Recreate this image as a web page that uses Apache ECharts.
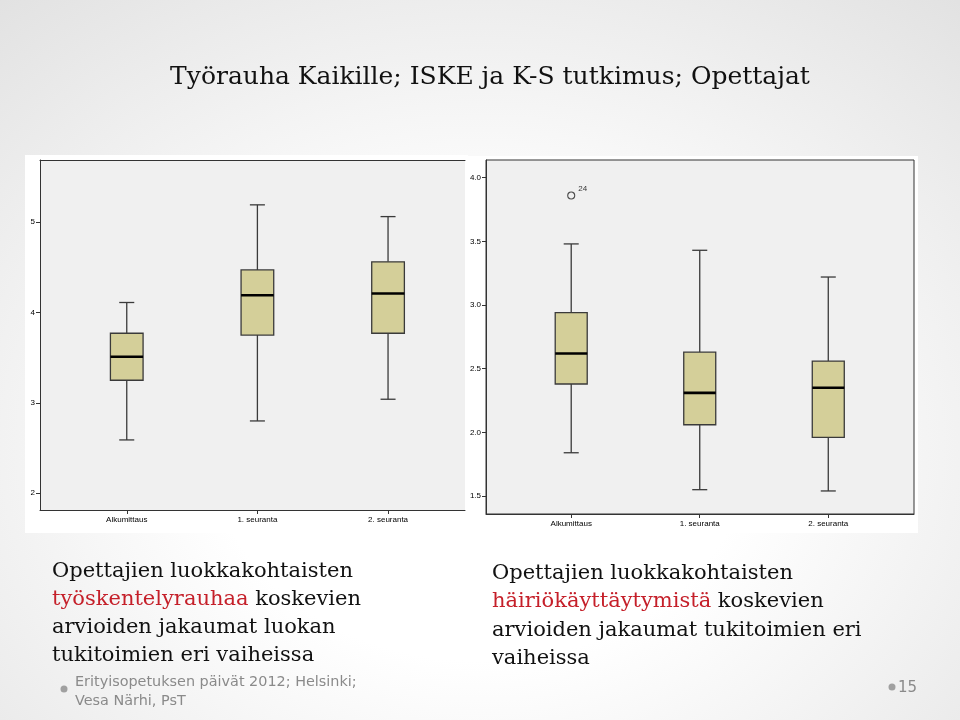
<!DOCTYPE html>
<html><head><meta charset="utf-8">
<script src="https://cdn.jsdelivr.net/npm/echarts@6/dist/echarts.min.js"></script>
<style>
html,body{margin:0;padding:0;}
body{width:960px;height:720px;overflow:hidden;background:radial-gradient(ellipse 80% 85% at 50% 62%, #ffffff 35%, #e0e0e0 100%);}
#c{width:960px;height:720px;}
</style></head><body><div id="c"></div>
<script>
const categories = ['Alkumittaus', '1. seuranta', '2. seuranta'];
const leftTicks = [2, 3, 4, 5];
const rightTicks = [1.5, 2.0, 2.5, 3.0, 3.5, 4.0];
// työskentelyrauhaa
const leftLow = [2.59, 2.80, 3.04];
const leftQ1 = [3.25, 3.75, 3.77];
const leftMedian = [3.51, 4.19, 4.21];
const leftQ3 = [3.77, 4.47, 4.56];
const leftHigh = [4.11, 5.19, 5.06];
// häiriökäyttäytyminen
const rightLow = [1.84, 1.55, 1.54];
const rightQ1 = [2.38, 2.06, 1.96];
const rightMedian = [2.62, 2.31, 2.35];
const rightQ3 = [2.94, 2.63, 2.56];
const rightHigh = [3.48, 3.43, 3.22];
const rightOutliers = [[0, 3.86]];
const rightOutlierIds = ['24'];

const titleText = 'Työrauha Kaikille; ISKE ja K-S tutkimus; Opettajat';
const leftCaption = ['Opettajien luokkakohtaisten', '{r|työskentelyrauhaa} koskevien', 'arvioiden jakaumat luokan', 'tukitoimien eri vaiheissa'];
const rightCaption = ['Opettajien luokkakohtaisten', '{r|häiriökäyttäytymistä} koskevien', 'arvioiden jakaumat tukitoimien eri', 'vaiheissa'];
const footer = ['Erityisopetuksen päivät 2012; Helsinki;', 'Vesa Närhi, PsT'];
const pageNo = '15';

function rows(lo, q1, md, q3, hi) {
  return categories.map((c, i) => [i, lo[i], q1[i], md[i], q3[i], hi[i]]);
}

function makeRender(boxRatio, capRatio) {
  return function (params, api) {
    const x = api.value(0);
    const lo = api.coord([x, api.value(1)]);
    const q1 = api.coord([x, api.value(2)]);
    const md = api.coord([x, api.value(3)]);
    const q3 = api.coord([x, api.value(4)]);
    const hi = api.coord([x, api.value(5)]);
    const band = api.size([1, 0])[0];
    const bw = band * boxRatio, cw = band * capRatio;
    const ls = { stroke: '#3a3a3a', lineWidth: 1.3 };
    return {
      type: 'group',
      children: [
        { type: 'line', shape: { x1: lo[0], y1: lo[1], x2: q1[0], y2: q1[1] }, style: ls },
        { type: 'line', shape: { x1: q3[0], y1: q3[1], x2: hi[0], y2: hi[1] }, style: ls },
        { type: 'line', shape: { x1: lo[0] - cw / 2, y1: lo[1], x2: lo[0] + cw / 2, y2: lo[1] }, style: ls },
        { type: 'line', shape: { x1: hi[0] - cw / 2, y1: hi[1], x2: hi[0] + cw / 2, y2: hi[1] }, style: ls },
        { type: 'rect', shape: { x: q3[0] - bw / 2, y: q3[1], width: bw, height: q1[1] - q3[1] }, style: { fill: '#d4cf99', stroke: '#3a3a3a', lineWidth: 1.3 } },
        { type: 'line', shape: { x1: md[0] - bw / 2, y1: md[1], x2: md[0] + bw / 2, y2: md[1] }, style: { stroke: '#000', lineWidth: 2.6 } }
      ]
    };
  };
}

const axisFont = { fontFamily: 'Liberation Sans', fontSize: 8, color: '#000' };
const axisLineStyle = { color: '#333', width: 1 };

const chart = echarts.init(document.getElementById('c'), null, { renderer: 'canvas' });

const graphics = [
  { type: 'rect', z: -1, shape: { x: 25, y: 155, width: 443, height: 378 }, style: { fill: '#ffffff' } },
  { type: 'rect', z: -1, shape: { x: 466, y: 156, width: 452, height: 377 }, style: { fill: '#ffffff' } },
  { type: 'text', x: 490, y: 77, style: { text: titleText, font: '25px "DejaVu Serif"', fill: '#111', align: 'center', verticalAlign: 'middle' } },
  { type: 'circle', shape: { cx: 64, cy: 689, r: 3.5 }, style: { fill: '#a0a0a0' } },
  { type: 'circle', shape: { cx: 892, cy: 687, r: 3.5 }, style: { fill: '#a0a0a0' } },
  { type: 'text', x: 898, y: 688, style: { text: pageNo, font: '15px "DejaVu Sans"', fill: '#8a8a8a', align: 'left', verticalAlign: 'middle' } }
];
const leftY = [572, 600, 628, 656];
const rightY = [574, 602, 631, 659];
leftCaption.forEach((t, i) => graphics.push({ type: 'text', x: 52, y: leftY[i], style: { text: t, font: '21px "DejaVu Serif"', fill: '#111', align: 'left', verticalAlign: 'middle', rich: { r: { fill: '#c5202a', font: '21px "DejaVu Serif"' } } } }));
rightCaption.forEach((t, i) => graphics.push({ type: 'text', x: 492, y: rightY[i], style: { text: t, font: '21px "DejaVu Serif"', fill: '#111', align: 'left', verticalAlign: 'middle', rich: { r: { fill: '#c5202a', font: '21px "DejaVu Serif"' } } } }));
footer.forEach((t, i) => graphics.push({ type: 'text', x: 75, y: [682, 701][i], style: { text: t, font: '14.4px "DejaVu Sans"', fill: '#8a8a8a', align: 'left', verticalAlign: 'middle' } }));

chart.setOption({
  animation: false,
  backgroundColor: 'transparent',
  graphic: graphics,
  grid: [
    { left: 40, top: 160, width: 425, height: 350, show: true, backgroundColor: '#f0f0f0', borderWidth: 0, containLabel: false, outerBoundsMode: 'none' },
    { left: 486, top: 160, width: 428, height: 354, show: true, backgroundColor: '#f0f0f0', borderColor: '#333', borderWidth: 1, containLabel: false, outerBoundsMode: 'none' }
  ],
  xAxis: [
    { gridIndex: 0, type: 'value', min: -0.664, max: 2.589, position: 'bottom',
      axisLine: { show: true, onZero: false, lineStyle: axisLineStyle },
      axisTick: { show: true, customValues: [0, 1, 2], length: 4, lineStyle: axisLineStyle },
      axisLabel: Object.assign({ customValues: [0, 1, 2], margin: 6, formatter: v => categories[Math.round(v)] }, axisFont),
      splitLine: { show: false } },
    { gridIndex: 0, type: 'value', min: -0.664, max: 2.589, position: 'top',
      axisLine: { show: true, onZero: false, lineStyle: axisLineStyle }, axisTick: { show: false }, axisLabel: { show: false }, splitLine: { show: false } },
    { gridIndex: 1, type: 'value', min: -0.663, max: 2.667, position: 'bottom',
      axisLine: { show: true, onZero: false, lineStyle: axisLineStyle },
      axisTick: { show: true, customValues: [0, 1, 2], length: 4, lineStyle: axisLineStyle },
      axisLabel: Object.assign({ customValues: [0, 1, 2], margin: 6, formatter: v => categories[Math.round(v)] }, axisFont),
      splitLine: { show: false } }
  ],
  yAxis: [
    { gridIndex: 0, type: 'value', min: 1.815, max: 5.686, position: 'left',
      axisLine: { show: true, onZero: false, lineStyle: axisLineStyle },
      axisTick: { show: true, customValues: leftTicks, length: 4, lineStyle: axisLineStyle },
      axisLabel: Object.assign({ customValues: leftTicks, margin: 5, formatter: v => String(v) }, axisFont),
      splitLine: { show: false } },
    { gridIndex: 1, type: 'value', min: 1.359, max: 4.139, position: 'left',
      axisLine: { show: true, onZero: false, lineStyle: axisLineStyle },
      axisTick: { show: true, customValues: rightTicks, length: 4, lineStyle: axisLineStyle },
      axisLabel: Object.assign({ customValues: rightTicks, margin: 5, formatter: v => v.toFixed(1) }, axisFont),
      splitLine: { show: false } }
  ],
  series: [
    { type: 'custom', xAxisIndex: 0, yAxisIndex: 0, z: 3, encode: { x: 0, y: [1, 2, 3, 4, 5] },
      data: rows(leftLow, leftQ1, leftMedian, leftQ3, leftHigh), renderItem: makeRender(0.25, 0.115) },
    { type: 'custom', xAxisIndex: 2, yAxisIndex: 1, z: 3, encode: { x: 0, y: [1, 2, 3, 4, 5] },
      data: rows(rightLow, rightQ1, rightMedian, rightQ3, rightHigh), renderItem: makeRender(0.249, 0.117) },
    { type: 'scatter', xAxisIndex: 2, yAxisIndex: 1, z: 4, symbol: 'circle', symbolSize: 7,
      itemStyle: { color: 'rgba(0,0,0,0)', borderColor: '#222', borderWidth: 1.1 },
      data: rightOutliers,
      label: { show: true, position: 'right', offset: [-2, -7], formatter: p => rightOutlierIds[p.dataIndex], fontFamily: 'Liberation Sans', fontSize: 8, color: '#000' } }
  ]
});
</script></body></html>
